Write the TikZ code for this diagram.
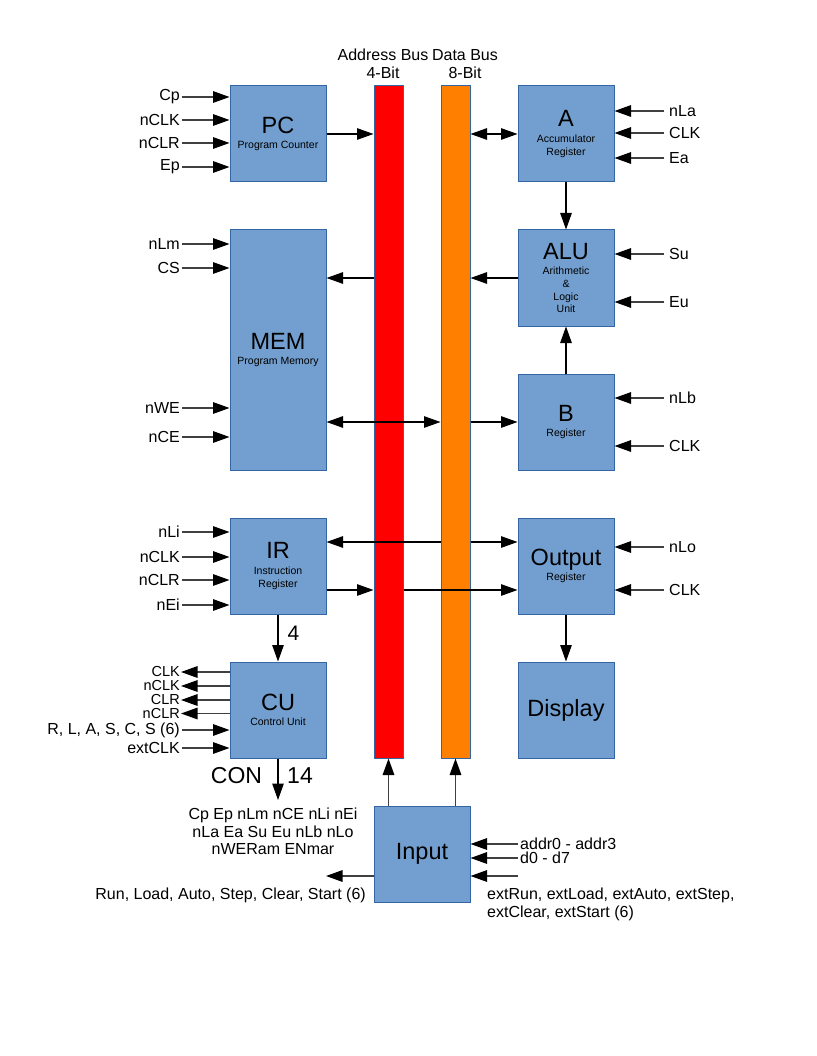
\documentclass[tikz,border=0pt]{standalone}
\usepackage{fontspec}
\setmainfont{Liberation Sans}
\usetikzlibrary{arrows.meta,positioning}
\definecolor{blkfill}{HTML}{729FCF}
\definecolor{blkline}{HTML}{3465A4}
\definecolor{addrbus}{HTML}{FF0000}
\definecolor{databus}{HTML}{FF8000}
\newcommand{\ttlf}{\fontsize{23.5}{28}\selectfont}
\newcommand{\subf}{\fontsize{10.5}{12.6}\selectfont}
\newcommand{\pinf}{\fontsize{16}{17.5}\selectfont}
\newcommand{\blkt}[2]{{\ttlf #1}\\[3pt]#2}
\tikzset{
    >={Triangle[length=16.5pt,width=11.5pt,color=black]},
    blk/.style={draw=blkline, line width=1pt, fill=blkfill, minimum width=96, minimum height=96, inner sep=0pt, align=center, font=\subf},
    bus/.style={draw=blkline, line width=1pt, minimum width=29, minimum height=672, inner sep=0pt},
    arr/.style={line width=1.2pt, ->},
    darr/.style={line width=1.2pt, <->},
    pin/.style={line width=1.4pt, black!75, ->},
    pinl/.style={font=\pinf, anchor=east, inner sep=2pt},
    pinr/.style={font=\pinf, anchor=west, inner sep=5pt},
    txt/.style={font=\pinf, inner sep=0pt},
    big/.style={font=\fontsize{23}{27}\selectfont, inner sep=0pt}
}

\begin{document}
\begin{tikzpicture}[x=1pt, y=-1pt]
    \useasboundingbox (0,0) rectangle (816,1056);

    % Buses
    \node[bus, fill=addrbus] (abus) at (388.5,422) {};
    \node[bus, fill=databus] (dbus) at (455.5,422) {};
    \node[txt, align=center] (abuslbl) at (383,64) {Address Bus\\4-Bit};
    \node[txt, align=center] (dbuslbl) at (465,64) {Data Bus\\8-Bit};

    % Left column
    \node[blk] (pc) at (278,134) {\blkt{PC}{Program Counter}};
    \node[blk, minimum height=240] (mem) at (278,350) {\blkt{MEM}{Program Memory}};
    \node[blk] (ir) at (278,566) {\blkt{IR}{Instruction\\Register}};
    \node[blk] (cu) at (278,710) {\blkt{CU}{Control Unit}};

    % Right column
    \node[blk] (a) at (566,134) {\blkt{A}{Accumulator\\Register}};
    \node[blk] (alu) at (566,278) {\blkt{ALU}{Arithmetic\\\&\\Logic\\Unit}};
    \node[blk] (b) at (566,422) {\blkt{B}{Register}};
    \node[blk] (out) at (566,566) {\blkt{Output}{Register}};
    \node[blk, font=\ttlf] (disp) at (566,710) {Display};

    % Input
    \node[blk, font=\ttlf] (inp) at (422,854) {Input};

    % Control pins, left side
    \foreach \y/\t [count=\i] in {97/Cp,120/nCLK,143/nCLR,167/Ep}{
        \node[pinl] (pcp\i) at (182,\y) {\t};
        \draw[pin] (pcp\i.east) -- (pcp\i.east -| pc.west);
    }
    \foreach \y/\t [count=\i] in {244/nLm,268/CS,408/nWE,437/nCE}{
        \node[pinl] (memp\i) at (182,\y) {\t};
        \draw[pin] (memp\i.east) -- (memp\i.east -| mem.west);
    }
    \foreach \y/\t [count=\i] in {532/nLi,557/nCLK,580/nCLR,605/nEi}{
        \node[pinl] (irp\i) at (182,\y) {\t};
        \draw[pin] (irp\i.east) -- (irp\i.east -| ir.west);
    }
    \foreach \y/\t [count=\i] in {672/CLK,686/nCLK,700/CLR,713.5/nCLR}{
        \node[pinl, font=\fontsize{14.5}{16}\selectfont, inner sep=1pt] (cuo\i) at (181,\y) {\t};
        \draw[pin] (cuo\i.east -| cu.west) -- (cuo\i.east);
    }
    \foreach \y/\t [count=\i] in {730/{R, L, A, S, C, S (6)},748/extCLK}{
        \node[pinl] (cui\i) at (182,\y) {\t};
        \draw[pin] (cui\i.east) -- (cui\i.east -| cu.west);
    }

    % Control pins, right side
    \foreach \y/\t [count=\i] in {111/nLa,133/CLK,158/Ea}{
        \node[pinr] (ap\i) at (664,\y) {\t};
        \draw[pin] (ap\i.west) -- (ap\i.west -| a.east);
    }
    \foreach \y/\t [count=\i] in {254/Su,302/Eu}{
        \node[pinr] (alup\i) at (664,\y) {\t};
        \draw[pin] (alup\i.west) -- (alup\i.west -| alu.east);
    }
    \foreach \y/\t [count=\i] in {398/nLb,446/CLK}{
        \node[pinr] (bp\i) at (664,\y) {\t};
        \draw[pin] (bp\i.west) -- (bp\i.west -| b.east);
    }
    \foreach \y/\t [count=\i] in {547/nLo,590/CLK}{
        \node[pinr] (outp\i) at (664,\y) {\t};
        \draw[pin] (outp\i.west) -- (outp\i.west -| out.east);
    }

    % Bus connections
    \draw[arr] (pc.east) -- (pc.east -| abus.west);
    \draw[darr] (a.west) -- (a.west -| dbus.east);
    \draw[arr] (abus.west |- alu.west) -- (mem.east |- alu.west);
    \draw[arr] (alu.west) -- (alu.west -| dbus.east);
    \draw[darr] (mem.east |- b.west) -- (dbus.west |- b.west);
    \draw[arr] (dbus.east |- b.west) -- (b.west);
    \draw[arr] (dbus.west |- 0,542) -- (ir.east |- 0,542);
    \draw[arr] (dbus.east |- 0,542) -- (out.west |- 0,542);
    \draw[arr] (ir.east |- 0,590) -- (abus.west |- 0,590);
    \draw[arr] (abus.east |- 0,590) -- (out.west |- 0,590);

    % Block to block
    \draw[arr] (a) -- (alu);
    \draw[arr] (b) -- (alu);
    \draw[arr] (out) -- (disp);
    \draw[arr] (ir) -- (cu) node[big, font=\fontsize{21}{25}\selectfont, pos=0.4, right=9pt] (n4) {4};
    \draw[pin] (abus.south |- inp.north) -- (abus.south);
    \draw[pin] (dbus.south |- inp.north) -- (dbus.south);

    % Control word
    \coordinate (conend) at (278,800);
    \draw[arr] (cu) -- (conend);
    \node[big] (con) at (236.5,776) {CON};
    \node[big] (n14) at (300,776) {14};
    \node[txt, align=center] (contxt) at (273,831.5) {Cp Ep nLm nCE nLi nEi\\nLa Ea Su Eu nLb nLo\\nWERam ENmar};

    % Input pins
    \node[pinr, inner sep=2pt] (addr) at (518,844) {addr0 - addr3};
    \node[pinr, inner sep=2pt] (dat) at (518,858) {d0 - d7};
    \draw[pin] (addr.west) -- (addr.west -| inp.east);
    \draw[pin] (dat.west) -- (dat.west -| inp.east);
    \coordinate (extin) at (518,876);
    \draw[pin] (extin) -- (extin -| inp.east);
    \node[txt, anchor=north west, align=left] (exttxt) at (487,888) {extRun, extLoad, extAuto, extStep,\\extClear, extStart (6)};
    \coordinate (runout) at (326,876);
    \draw[pin] (inp.west |- runout) -- (runout);
    \node[txt, anchor=east] (runtxt) at (366,895) {Run, Load, Auto, Step, Clear, Start (6)};
\end{tikzpicture}
\end{document}
